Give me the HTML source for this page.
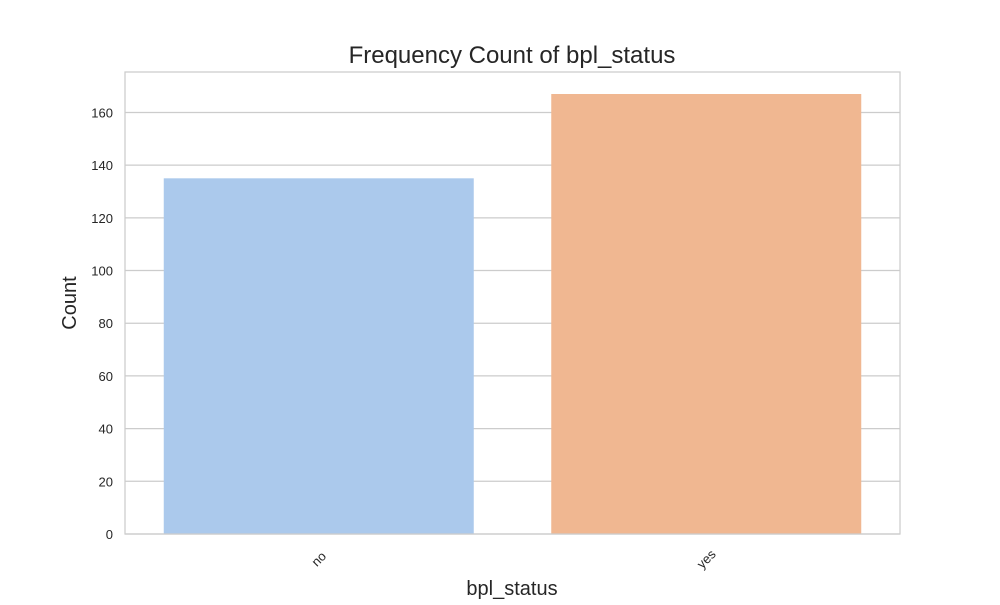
<!DOCTYPE html>
<html><head><meta charset="utf-8"><style>
body{margin:0;background:#fff;}
svg text{font-family:"Liberation Sans",Arial,sans-serif;fill:#262626;}
</style></head><body>
<svg id="chart" width="1000" height="600">
<text x="512" y="63" font-size="24" text-anchor="middle">Frequency Count of bpl_status</text>
<text x="512" y="595" font-size="20" text-anchor="middle">bpl_status</text>
<text transform="translate(76,303) rotate(-90)" font-size="20" text-anchor="middle">Count</text>
<g id="grid"></g><g id="bars"></g><g id="labels"></g>
<rect x="125" y="72" width="775" height="462" fill="none" stroke="#cccccc" stroke-width="1.25"/>
</svg>
<script>
const categories=["no","yes"];
const counts=[135,167];
const colors=["#abc9ec","#f0b791"];
const yTicks=[0,20,40,60,80,100,120,140,160];
const L=125,R=900,T=72,B=534,yMax=175.35;
const ns="http://www.w3.org/2000/svg";
const y=v=>B-(v/yMax)*(B-T);
const band=(R-L)/categories.length;
const x=i=>L+band*i+band/2;
function mk(t,a){const e=document.createElementNS(ns,t);for(const k in a)e.setAttribute(k,a[k]);return e;}
const grid=document.getElementById('grid'),bars=document.getElementById('bars'),labels=document.getElementById('labels');
yTicks.forEach(v=>{
 const l=mk('line',{x1:L,x2:R,y1:y(v),y2:y(v),stroke:'#cccccc','stroke-width':1.25});
 
 
 grid.appendChild(l);
 const t=mk('text',{x:L-12,y:y(v)+5,'font-size':13,'text-anchor':'end'});
 t.textContent=v;
 
 
 labels.appendChild(t);
});
categories.forEach((c,i)=>{
 const w=band*0.8;
 const r=mk('rect',{x:x(i)-w/2,y:y(counts[i]),width:w,height:B-y(counts[i]),fill:colors[i]});
 
 
 bars.appendChild(r);
 const t=mk('text',{'font-size':13,'text-anchor':'middle','dominant-baseline':'central',transform:`translate(${x(i)},${B+25}) rotate(-45)`});
 t.textContent=c;
 
 
 labels.appendChild(t);
});
</script>
</body></html>
